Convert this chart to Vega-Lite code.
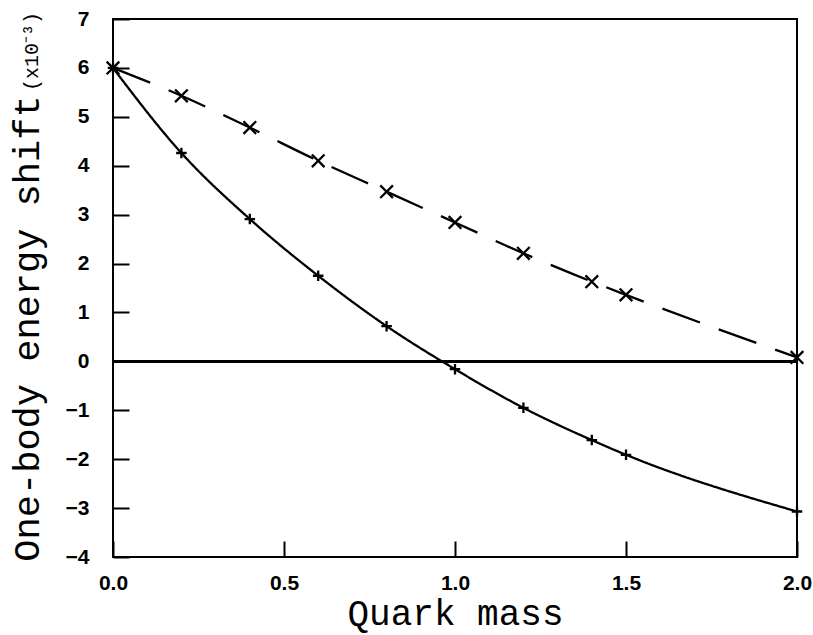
{
  "$schema": "https://vega.github.io/schema/vega-lite/v6.json",
  "width": 684,
  "height": 538,
  "autosize": {"type": "none"},
  "padding": {"left": 113, "top": 19, "right": 16, "bottom": 78},
  "background": "white",
  "config": {
    "view": {"stroke": "black", "strokeWidth": 2},
    "axis": {
      "domain": false,
      "grid": false,
      "tickSize": -16,
      "tickWidth": 2,
      "tickColor": "black",
      "labelFont": "Liberation Sans",
      "labelFontWeight": "bold",
      "labelFontSize": 21,
      "labelColor": "black",
      "labelFlush": false,
      "titleFont": "Liberation Mono",
      "titleFontWeight": "normal",
      "titleFontSize": 36,
      "titleColor": "black"
    }
  },
  "title": {
    "text": "(x10⁻³)",
    "orient": "left",
    "anchor": "end",
    "frame": "group",
    "font": "Liberation Mono",
    "fontSize": 20,
    "fontWeight": "normal",
    "color": "black",
    "offset": -34,
    "dx": 7
  },
  "data": {
    "values": [
      {"mass": 0.0, "shift": 6.0, "series": "dashed"},
      {"mass": 0.2, "shift": 5.43, "series": "dashed"},
      {"mass": 0.4, "shift": 4.78, "series": "dashed"},
      {"mass": 0.6, "shift": 4.1, "series": "dashed"},
      {"mass": 0.8, "shift": 3.47, "series": "dashed"},
      {"mass": 1.0, "shift": 2.84, "series": "dashed"},
      {"mass": 1.2, "shift": 2.21, "series": "dashed"},
      {"mass": 1.4, "shift": 1.63, "series": "dashed"},
      {"mass": 1.5, "shift": 1.36, "series": "dashed"},
      {"mass": 2.0, "shift": 0.08, "series": "dashed"},
      {"mass": 0.0, "shift": 6.0, "series": "solid"},
      {"mass": 0.2, "shift": 4.26, "series": "solid"},
      {"mass": 0.4, "shift": 2.91, "series": "solid"},
      {"mass": 0.6, "shift": 1.75, "series": "solid"},
      {"mass": 0.8, "shift": 0.72, "series": "solid"},
      {"mass": 1.0, "shift": -0.16, "series": "solid"},
      {"mass": 1.2, "shift": -0.95, "series": "solid"},
      {"mass": 1.4, "shift": -1.61, "series": "solid"},
      {"mass": 1.5, "shift": -1.91, "series": "solid"},
      {"mass": 2.0, "shift": -3.07, "series": "solid"}
    ]
  },
  "encoding": {
    "x": {
      "field": "mass",
      "type": "quantitative",
      "scale": {"domain": [0, 2], "nice": false, "zero": false},
      "axis": {
        "title": "Quark mass",
        "values": [0, 0.5, 1, 1.5, 2],
        "format": ".1f",
        "labelPadding": 31,
        "titleY": 67,
        "titleBaseline": "alphabetic"
      }
    },
    "y": {
      "field": "shift",
      "type": "quantitative",
      "scale": {"domain": [-4, 7], "nice": false, "zero": false},
      "axis": {
        "title": "One-body energy shift",
        "values": [-4, -3, -2, -1, 0, 1, 2, 3, 4, 5, 6, 7],
        "format": "d",
        "labelPadding": 40,
        "titleX": -75,
        "titleY": 309,
        "titleAlign": "center",
        "titleAngle": -90,
        "titleBaseline": "alphabetic",
        "titleFontSize": 37
      }
    }
  },
  "layer": [
    {
      "mark": {"type": "rule", "color": "black", "strokeWidth": 2},
      "encoding": {"x": null, "y": {"datum": 0}}
    },
    {
      "mark": {"type": "line", "color": "black", "strokeWidth": 2.3, "interpolate": "monotone"},
      "encoding": {
        "detail": {"field": "series"},
        "strokeDash": {
          "field": "series",
          "type": "nominal",
          "scale": {"domain": ["dashed", "solid"], "range": [[40, 20], [1, 0]]},
          "legend": null
        }
      }
    },
    {
      "mark": {"type": "point", "filled": false, "color": "black", "strokeWidth": 2.3, "opacity": 1},
      "encoding": {
        "shape": {
          "field": "series",
          "type": "nominal",
          "scale": {"domain": ["dashed", "solid"], "range": ["M-1,-1L1,1M-1,1L1,-1", "M-1,0L1,0M0,-1L0,1"]},
          "legend": null
        },
        "size": {
          "field": "series",
          "type": "nominal",
          "scale": {"domain": ["dashed", "solid"], "range": [160, 110]},
          "legend": null
        }
      }
    }
  ]
}
